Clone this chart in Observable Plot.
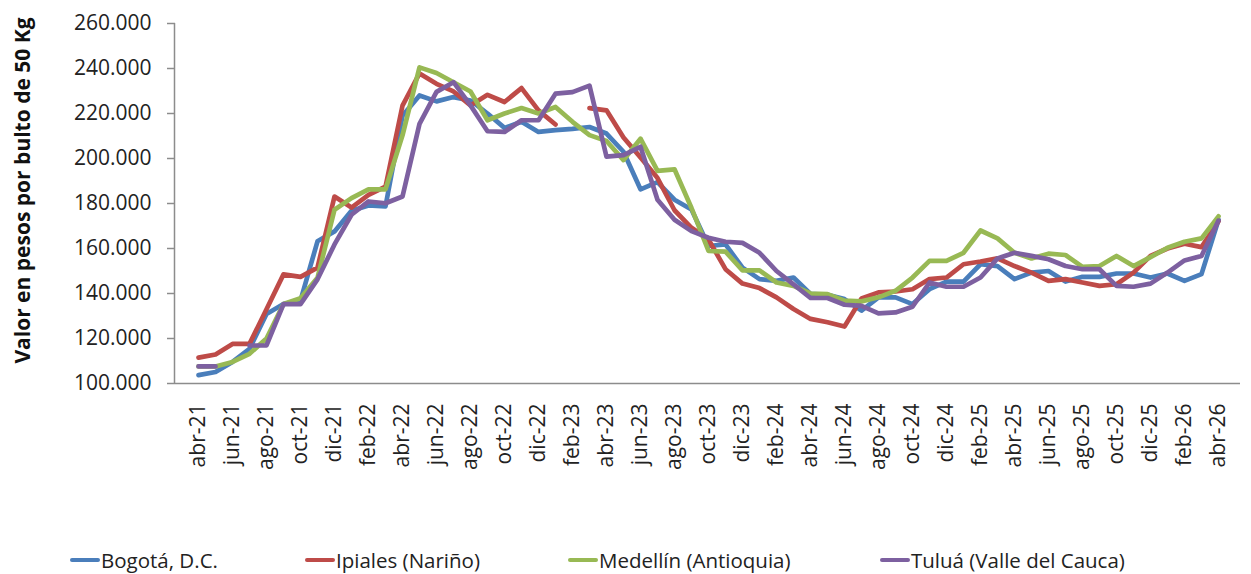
<!DOCTYPE html>
<html>
<head>
<meta charset="utf-8">
<script src="https://cdn.jsdelivr.net/npm/d3@7"></script>
<script src="https://cdn.jsdelivr.net/npm/@observablehq/plot@0.6"></script>
<style>
  body { margin: 0; background: #fff; font-family: "Open Sans", sans-serif; }
  #chart { position: relative; width: 1251px; height: 574px; }
  .legend { position: absolute; top: 547px; left: 0; width: 1251px; height: 26px; font-size: 20.5px; color: #222; }
  .item { position: absolute; top: 0; display: flex; align-items: center; white-space: nowrap; line-height: 26px; height: 26px; }
  .sw { display: inline-block; width: 30px; height: 4.5px; margin-right: 1px; border-radius: 2px; }
</style>
</head>
<body>
<div id="chart"></div>
<script>
// Months (abr-21 .. abr-26)
const months = [
  "abr-21","may-21","jun-21","jul-21","ago-21","sep-21","oct-21","nov-21","dic-21",
  "ene-22","feb-22","mar-22","abr-22","may-22","jun-22","jul-22","ago-22","sep-22","oct-22","nov-22","dic-22",
  "ene-23","feb-23","mar-23","abr-23","may-23","jun-23","jul-23","ago-23","sep-23","oct-23","nov-23","dic-23",
  "ene-24","feb-24","mar-24","abr-24","may-24","jun-24","jul-24","ago-24","sep-24","oct-24","nov-24","dic-24",
  "ene-25","feb-25","mar-25","abr-25","may-25","jun-25","jul-25","ago-25","sep-25","oct-25","nov-25","dic-25",
  "ene-26","feb-26","mar-26","abr-26"
];

// Values in thousands of pesos per 50 kg bag
const bogota = [
  103.7,105.1,109.6,115.4,130.9,135.3,136.8,163.2,167.6,
  176.8,179.1,178.7,219.0,228.0,225.4,227.3,225.8,220.0,213.6,216.3,211.8,
  212.6,213.2,214.0,211.1,203.0,186.3,189.5,181.7,177.3,161.1,161.8,151.5,
  146.4,145.6,147.1,139.8,139.4,137.5,132.4,138.3,138.3,135.3,141.9,145.3,
  145.3,153.0,152.2,146.4,149.3,150.0,145.3,147.4,147.4,148.9,148.9,147.1,
  148.9,145.6,148.6,172.8
];
const ipiales = [
  111.5,112.9,117.6,117.6,133.0,148.5,147.4,151.5,183.1,
  178.2,183.8,187.5,223.5,237.8,233.2,229.8,223.6,228.3,225.1,231.3,221.4,
  215.1,null,222.4,221.4,209.3,200.5,191.3,177.0,169.2,164.0,150.8,144.4,
  142.4,138.3,133.1,128.7,127.2,125.3,137.8,140.5,140.9,141.9,146.4,147.1,
  153.0,154.2,155.6,152.2,149.3,145.6,146.4,144.9,143.4,144.1,149.3,156.7,
  160.0,162.1,160.6,172.1
];
const medellin = [
  107.6,107.6,109.6,113.2,120.0,135.3,137.9,147.0,177.2,
  182.4,186.3,186.3,210.3,240.5,238.0,233.9,229.8,217.0,220.0,222.4,220.0,
  222.9,216.3,210.4,207.8,199.3,208.8,194.5,195.2,178.0,158.9,158.6,150.3,
  150.3,144.9,143.4,140.0,139.7,136.8,136.5,138.3,141.2,147.1,154.5,154.5,
  158.1,168.0,164.5,158.1,155.6,157.7,157.1,151.8,152.2,156.7,152.2,156.2,
  160.3,163.0,164.5,174.3
];
const tulua = [
  107.6,107.6,null,116.9,116.9,135.3,135.3,146.3,161.8,
  175.0,180.9,180.1,183.1,215.4,229.6,233.9,223.6,212.1,211.8,217.0,217.0,
  228.8,229.5,232.4,200.8,201.5,205.2,181.7,172.8,167.7,164.8,163.0,162.5,
  158.1,150.0,144.1,138.0,138.0,135.0,134.5,131.2,131.6,134.1,144.9,143.0,
  143.0,147.1,155.6,158.1,156.7,155.2,152.2,150.8,150.8,143.4,143.0,144.4,
  149.3,154.7,156.7,172.4
];

const seriesNames = ["Bogotá, D.C.", "Ipiales (Nariño)", "Medellín (Antioquia)", "Tuluá (Valle del Cauca)"];
const seriesColors = ["#4A7EBB", "#BE4B48", "#98B954", "#7D60A0"];
const seriesValues = [bogota, ipiales, medellin, tulua];

const yTicks = [100000,120000,140000,160000,180000,200000,220000,240000,260000];
const xTicks = months.filter((d, i) => i % 2 === 0);
const yTitle = "Valor en pesos por bulto de 50 Kg";

const data = seriesNames.flatMap((name, s) =>
  seriesValues[s].map((v, i) => ({ serie: name, mes: months[i], valor: v == null ? null : v * 1000 }))
);

const fmt = d3.formatLocale({ decimal: ",", thousands: ".", grouping: [3], currency: ["$", ""] }).format(",.0f");

const axisLineColor = "#8C8C8C";

// left axis line along the frame edge
const yAxisLine = (index, scales, values, dim) => {
  const g = document.createElementNS("http://www.w3.org/2000/svg", "line");
  g.setAttribute("x1", dim.marginLeft - 0.5);
  g.setAttribute("x2", dim.marginLeft - 0.5);
  g.setAttribute("y1", scales.y(yTicks[yTicks.length - 1]));
  g.setAttribute("y2", scales.y(yTicks[0]));
  g.setAttribute("stroke", axisLineColor);
  g.setAttribute("stroke-width", 1.5);
  return g;
};

const plot = Plot.plot({
  width: 1251,
  height: 545,
  marginLeft: 175,
  marginRight: 11,
  marginTop: 23,
  marginBottom: 162,
  style: { fontFamily: "'Open Sans', sans-serif", fontSize: "21px", color: "#222", background: "#fff", overflow: "visible" },
  x: { type: "point", domain: months, padding: 0.5 },
  y: { domain: [100000, 260000] },
  color: { domain: seriesNames, range: seriesColors },
  marks: [
    Plot.axisY({ ticks: yTicks, tickFormat: fmt, tickSize: 8, tickPadding: 16, stroke: axisLineColor, strokeWidth: 1.5, label: null, fontSize: 21 }),
    Plot.axisX({ ticks: xTicks, tickSize: 0, tickPadding: 20, tickRotate: -90, label: null, fontSize: 21 }),
    Plot.ruleY([100000], { stroke: axisLineColor, strokeWidth: 1.5 }),
    yAxisLine,
    Plot.text([yTitle], { frameAnchor: "left", textAnchor: "middle", rotate: -90, dx: -152, dy: -13, fontWeight: "bold", fontSize: 21, fill: "#111" }),
    Plot.line(data, { x: "mes", y: "valor", z: "serie", stroke: "serie", strokeWidth: 4.7, strokeLinejoin: "round", strokeLinecap: "round" })
  ]
});

const chart = document.getElementById("chart");
chart.appendChild(plot);

// Legend below the SVG
const legend = document.createElement("div");
legend.className = "legend";
const legendLeft = [70, 305, 568, 880];
seriesNames.forEach((name, i) => {
  const item = document.createElement("div");
  item.className = "item";
  item.style.left = legendLeft[i] + "px";
  const sw = document.createElement("span");
  sw.className = "sw";
  sw.style.background = seriesColors[i];
  const t = document.createElement("span");
  t.textContent = name;
  item.appendChild(sw);
  item.appendChild(t);
  legend.appendChild(item);
});
chart.appendChild(legend);
</script>
</body>
</html>
